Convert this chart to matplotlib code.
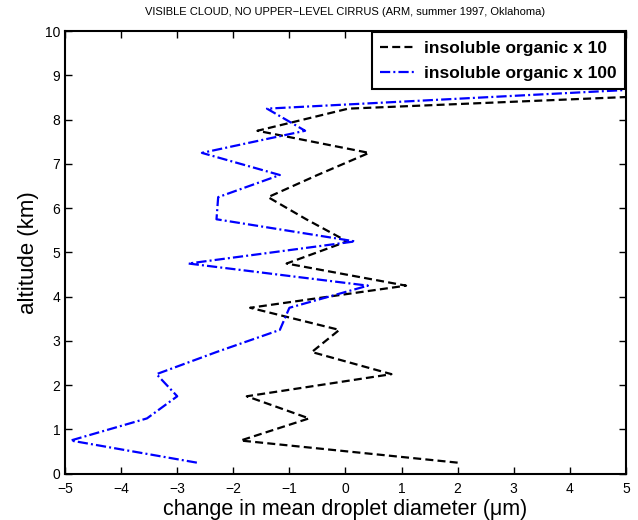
import matplotlib
matplotlib.use('Agg')
import matplotlib.pyplot as plt

plt.rcParams['font.family'] = ['Liberation Sans', 'DejaVu Sans']

# altitude (km) and change in mean droplet diameter (um)
altitud_10 = [0.25, 0.75, 1.25, 1.75, 2.25, 2.75, 3.25, 3.75, 4.25, 4.75,
              5.25, 5.75, 6.25, 6.75, 7.25, 7.75, 8.25, 8.75]
organico_10 = [2.0, -1.87, -0.65, -1.76, 0.82, -0.6, -0.11, -1.7, 1.08, -1.05,
               0.03, -0.7, -1.38, -0.5, 0.42, -1.57, 0.05, 9.5]

altitud_100 = [0.25, 0.75, 1.25, 1.75, 2.25, 2.75, 3.25, 3.75, 4.25, 4.75,
               5.25, 5.75, 6.25, 6.75, 7.25, 7.75, 8.25, 8.75, 9.25, 9.75, 10.25]
organico_100 = [-2.65, -4.9, -3.54, -3.0, -3.37, -2.3, -1.17, -1.0, 0.4, -2.8,
                0.17, -2.3, -2.27, -1.17, -2.56, -0.72, -1.4, 6.2, 2.5, 0.68, 0.62]

rotulos = ['insoluble organic x 10', 'insoluble organic x 100']
titulo = 'VISIBLE CLOUD, NO UPPER\u2212LEVEL CIRRUS (ARM, summer 1997, Oklahoma)'

fig = plt.figure(figsize=(6.38, 5.2), dpi=100)
ax = fig.add_axes([0.102, 0.089, 0.879, 0.851])

ax.plot(organico_10, altitud_10, color='k', lw=1.6, dashes=(3.6, 1.9), label=rotulos[0])
ax.plot(organico_100, altitud_100, color=(0, 0, 1), lw=1.6,
        dashes=(4.6, 1.4, 0.9, 1.4), label=rotulos[1])

ax.set_xlim(-5, 5)
ax.set_ylim(0, 10)
ax.set_xticks(range(-5, 6))
ax.set_yticks(range(0, 11))
ax.tick_params(direction='in', top=True, right=True, length=5, width=1, labelsize=10)
ax.tick_params(axis='x', pad=6)
for s in ax.spines.values():
    s.set_linewidth(1.5)

ax.set_xlabel('change in mean droplet diameter (\u03bcm)', fontsize=15.5, labelpad=2)
ax.set_ylabel('altitude (km)', fontsize=16)
ax.set_title(titulo, fontsize=8, pad=12)

leg = ax.legend(loc='upper right', prop={'weight': 'bold', 'size': 12.5}, fancybox=False,
                edgecolor='k', framealpha=1, borderaxespad=0.05, handlelength=2.0,
                handletextpad=0.5, borderpad=0.5, labelspacing=0.55)
leg.get_frame().set_linewidth(1.5)

fig.savefig('out.png', dpi=100)
